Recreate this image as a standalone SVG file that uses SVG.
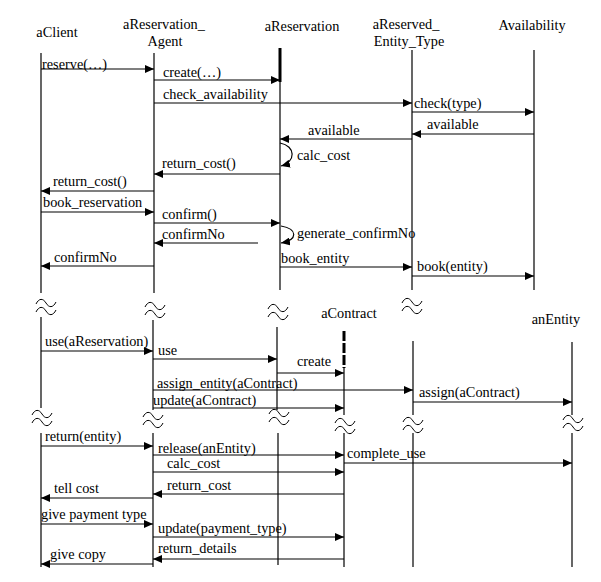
<svg xmlns="http://www.w3.org/2000/svg" width="601" height="582" viewBox="0 0 601 582">
<style>
text{font-family:"Liberation Serif","Times New Roman",serif;font-size:14.3px;fill:#000}
.ll{stroke:#000;stroke-width:1.2;fill:none}
.msg{stroke:#000;stroke-width:1.2;fill:none;marker-end:url(#ah)}
.brk{stroke:#000;stroke-width:1;fill:none}
.mid{text-anchor:middle}
</style>
<defs>
<marker id="ah" markerUnits="userSpaceOnUse" markerWidth="10" markerHeight="8" refX="9" refY="4" orient="auto">
<path d="M0,0 L9,4 L0,8 Z" fill="#000"/>
</marker>
<path id="wave" d="M-10,2 c3,-6 7,-6 10,-1 s7,5 10,-1 M-10,10 c3,-6 7,-6 10,-1 s7,5 10,-1" class="brk"/>
</defs>
<rect width="601" height="582" fill="#fff"/>

<g id="aClient">
<text x="57" y="37" class="mid">aClient</text>
<line class="ll" x1="41" y1="53" x2="41" y2="293"/>
<line class="ll" x1="41" y1="317" x2="41" y2="408"/>
<line class="ll" x1="41" y1="433" x2="41" y2="567"/>
<use href="#wave" x="46" y="302"/>
<use href="#wave" x="42" y="413"/>
</g>
<g id="aReservation_Agent">
<text x="164" y="29" class="mid">aReservation_</text>
<text x="165" y="46" class="mid">Agent</text>
<line class="ll" x1="154" y1="53" x2="154" y2="293"/>
<line class="ll" x1="153" y1="320" x2="153" y2="410"/>
<line class="ll" x1="153" y1="433" x2="153" y2="567"/>
<use href="#wave" x="155" y="305"/>
<use href="#wave" x="153" y="415"/>
</g>
<g id="aReservation">
<text x="302" y="31" class="mid">aReservation</text>
<line x1="280" y1="48" x2="280" y2="82" stroke="#000" stroke-width="3"/>
<line class="ll" x1="280" y1="82" x2="280" y2="290"/>
<line class="ll" x1="277" y1="327" x2="277" y2="410"/>
<line class="ll" x1="278" y1="433" x2="278" y2="565"/>
<use href="#wave" x="278" y="307"/>
<use href="#wave" x="279" y="412"/>
</g>
<g id="aReserved_Entity_Type">
<text x="406" y="29" class="mid">aReserved_</text>
<text x="409" y="46" class="mid">Entity_Type</text>
<line class="ll" x1="412" y1="50" x2="412" y2="290"/>
<line class="ll" x1="413" y1="341" x2="413" y2="415"/>
<line class="ll" x1="413" y1="433" x2="413" y2="567"/>
<use href="#wave" x="412" y="301"/>
<use href="#wave" x="413" y="420"/>
</g>
<g id="Availability">
<text x="532" y="30" class="mid">Availability</text>
<line class="ll" x1="534" y1="50" x2="534" y2="290"/>
</g>
<g id="aContract">
<text x="349" y="318" class="mid">aContract</text>
<line x1="344" y1="331" x2="344" y2="368" stroke="#000" stroke-width="3" stroke-dasharray="10,2"/>
<line class="ll" x1="344" y1="368" x2="344" y2="415"/>
<line class="ll" x1="344" y1="433" x2="344" y2="567"/>
<use href="#wave" x="345" y="421"/>
</g>
<g id="anEntity">
<text x="556" y="324" class="mid">anEntity</text>
<line class="ll" x1="572" y1="342" x2="572" y2="415"/>
<line class="ll" x1="572" y1="433" x2="572" y2="567"/>
<use href="#wave" x="573" y="418"/>
</g>

<g id="connectors">
<line class="msg" x1="41" y1="69" x2="154" y2="69"/>
<line class="msg" x1="154" y1="80" x2="280" y2="80"/>
<line class="msg" x1="154" y1="103" x2="412" y2="103"/>
<line class="msg" x1="412" y1="112" x2="534" y2="112"/>
<line class="msg" x1="534" y1="134" x2="412" y2="134"/>
<line class="msg" x1="412" y1="139" x2="280" y2="139"/>
<path class="msg" d="M280,143 C296,146 296,162 281,166"/>
<line class="msg" x1="280" y1="174" x2="154" y2="174"/>
<line class="msg" x1="154" y1="191" x2="41" y2="191"/>
<line class="msg" x1="41" y1="212" x2="154" y2="212"/>
<line class="msg" x1="154" y1="223" x2="280" y2="223"/>
<path class="msg" d="M281,226 C298,229 298,240 281,243"/>
<line class="msg" x1="258" y1="243" x2="154" y2="243"/>
<line class="msg" x1="154" y1="266" x2="41" y2="266"/>
<line class="msg" x1="280" y1="267" x2="412" y2="267"/>
<line class="msg" x1="412" y1="276" x2="534" y2="276"/>

<line class="msg" x1="41" y1="351" x2="153" y2="351"/>
<line class="msg" x1="153" y1="359" x2="277" y2="359"/>
<line class="msg" x1="277" y1="373" x2="344" y2="373"/>
<line class="msg" x1="153" y1="390" x2="413" y2="390"/>
<line class="msg" x1="413" y1="402" x2="572" y2="402"/>
<line class="msg" x1="153" y1="408" x2="344" y2="408"/>

<line class="msg" x1="41" y1="446" x2="153" y2="446"/>
<line class="msg" x1="153" y1="455" x2="344" y2="455"/>
<line class="msg" x1="344" y1="463" x2="572" y2="463"/>
<line class="msg" x1="153" y1="472" x2="344" y2="472"/>
<line class="msg" x1="344" y1="494" x2="153" y2="494"/>
<line class="msg" x1="153" y1="498" x2="41" y2="498"/>
<line class="msg" x1="41" y1="524" x2="153" y2="524"/>
<line class="msg" x1="153" y1="537" x2="344" y2="537"/>
<line class="msg" x1="344" y1="559" x2="153" y2="559"/>
<line class="msg" x1="153" y1="564" x2="41" y2="564"/>
</g>

<g id="labels">
<text x="42" y="69">reserve(…)</text>
<text x="163" y="77">create(…)</text>
<text x="163" y="99">check_availability</text>
<text x="414" y="108">check(type)</text>
<text x="427" y="129">available</text>
<text x="308" y="135">available</text>
<text x="297" y="160">calc_cost</text>
<text x="162" y="168">return_cost()</text>
<text x="53" y="186">return_cost()</text>
<text x="43" y="207">book_reservation</text>
<text x="162" y="219">confirm()</text>
<text x="297" y="238">generate_confirmNo</text>
<text x="162" y="239">confirmNo</text>
<text x="54" y="262">confirmNo</text>
<text x="281" y="263">book_entity</text>
<text x="417" y="271">book(entity)</text>

<text x="45" y="346">use(aReservation)</text>
<text x="158" y="355">use</text>
<text x="297" y="366">create</text>
<text x="157" y="388">assign_entity(aContract)</text>
<text x="153" y="405">update(aContract)</text>
<text x="419" y="397">assign(aContract)</text>

<text x="45" y="441">return(entity)</text>
<text x="158" y="453">release(anEntity)</text>
<text x="347" y="458">complete_use</text>
<text x="167" y="468">calc_cost</text>
<text x="167" y="490">return_cost</text>
<text x="54" y="493">tell cost</text>
<text x="41" y="519">give payment type</text>
<text x="158" y="533">update(payment_type)</text>
<text x="158" y="553">return_details</text>
<text x="50" y="559">give copy</text>
</g>
</svg>
